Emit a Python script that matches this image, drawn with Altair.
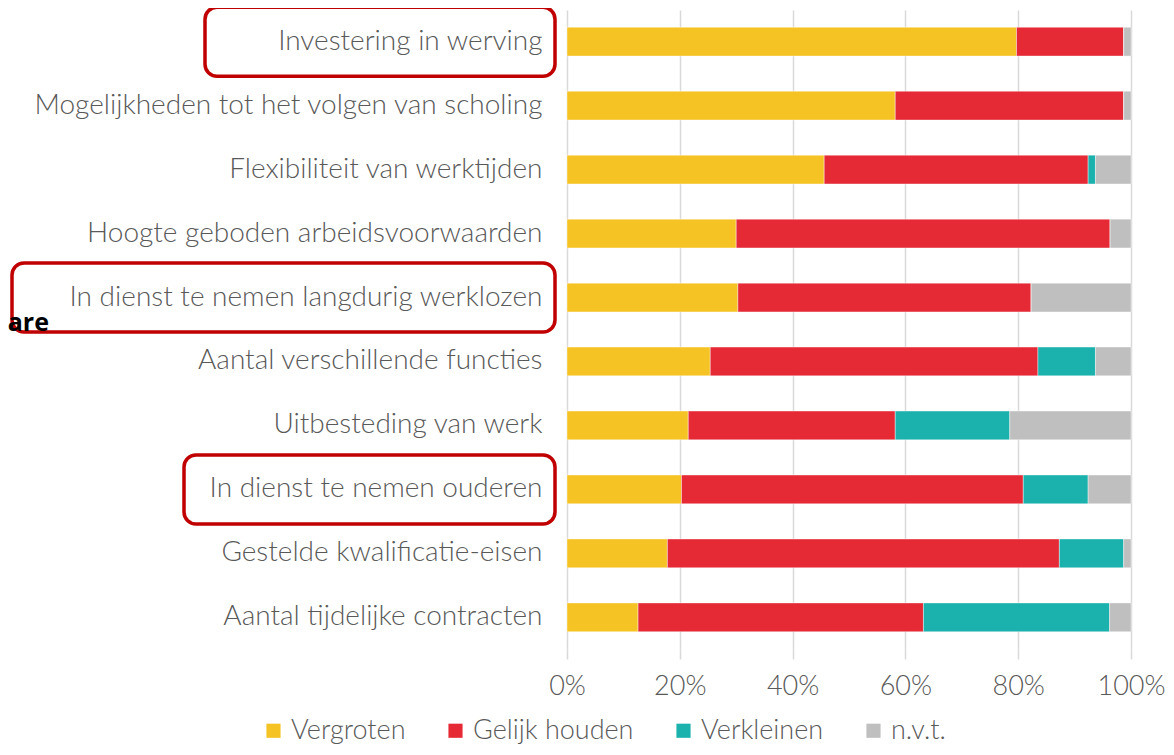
import altair as alt
import pandas as pd

categories = [
    "Investering in werving",
    "Mogelijkheden tot het volgen van scholing",
    "Flexibiliteit van werktijden",
    "Hoogte geboden arbeidsvoorwaarden",
    "In dienst te nemen langdurig werklozen",
    "Aantal verschillende functies",
    "Uitbesteding van werk",
    "In dienst te nemen ouderen",
    "Gestelde kwalificatie-eisen",
    "Aantal tijdelijke contracten",
]
series = ["Vergroten", "Gelijk houden", "Verkleinen", "n.v.t."]
colors = ["#F5C324", "#E52A36", "#1BB1AD", "#BFBFBF"]

vergroten = [79.7, 58.2, 45.6, 30.0, 30.3, 25.4, 21.5, 20.3, 17.8, 12.6]
gelijk_houden = [19.0, 40.5, 46.8, 66.3, 52.0, 58.1, 36.7, 60.6, 69.5, 50.6]
verkleinen = [0.0, 0.0, 1.3, 0.0, 0.0, 10.2, 20.3, 11.5, 11.4, 33.0]
nvt = [1.3, 1.3, 6.3, 3.7, 17.7, 6.3, 21.5, 7.6, 1.3, 3.8]

highlighted = [
    "Investering in werving",
    "In dienst te nemen langdurig werklozen",
    "In dienst te nemen ouderen",
]
box_left = [-362, -555, -383]
stray_text = "are"

rows = []
for i, c in enumerate(categories):
    for j, (s, vals) in enumerate(zip(series, [vergroten, gelijk_houden, verkleinen, nvt])):
        rows.append({"Categorie": c, "Reeks": s, "Waarde": vals[i], "Volgorde": j})
df = pd.DataFrame(rows)

stray = pd.DataFrame({"Categorie": [categories[4]], "t": [stray_text]})

FONT = "Lato"
GRAY = "#595959"

ysc = alt.Scale(domain=categories, paddingInner=0.55, paddingOuter=0.27)

bars = alt.Chart(df).mark_bar(stroke="white", strokeWidth=0.4).encode(
    x=alt.X("Waarde:Q", stack="normalize",
            scale=alt.Scale(domain=[0, 1]),
            axis=alt.Axis(format="%", values=[0, 0.2, 0.4, 0.6, 0.8, 1.0],
                          title=None, grid=True, gridColor="#D9D9D9", gridWidth=1.5,
                          domain=False, ticks=True, tickColor="#D9D9D9", tickSize=10,
                          tickWidth=1.5, labelFont=FONT, labelFontSize=27,
                          labelFontWeight=300, labelFlush=False, labelOverlap=False,
                          labelColor=GRAY, labelPadding=14)),
    y=alt.Y("Categorie:N", scale=ysc, sort=categories,
            axis=alt.Axis(title=None, domain=False, ticks=False, labelFont=FONT,
                          labelFontSize=28, labelFontWeight=300,
                          labelColor=GRAY, labelPadding=25,
                          labelLimit=600)),
    color=alt.Color("Reeks:N", sort=series,
                    scale=alt.Scale(domain=series, range=colors),
                    legend=alt.Legend(title=None, orient="none", direction="horizontal",
                                      legendX=-307, legendY=707,
                                      symbolType="square", symbolSize=200,
                                      symbolStrokeWidth=0, labelFont=FONT,
                                      labelFontSize=27, labelFontWeight=300,
                                      labelColor=GRAY, labelOffset=4,
                                      columnPadding=36, labelLimit=300)),
    order=alt.Order("Volgorde:Q"),
)

box_charts = []
for c, x0 in zip(highlighted, box_left):
    box_charts.append(
        alt.Chart(pd.DataFrame({"Categorie": [c]})).mark_rect(
            fill=None, stroke="#C00000", strokeWidth=3.5, cornerRadius=12, height=69
        ).encode(
            y=alt.Y("Categorie:N", scale=ysc, sort=categories),
            x=alt.value(x0),
            x2=alt.value(-12),
        )
    )

stray_layer = alt.Chart(stray).mark_text(
    align="right", baseline="middle", font="Open Sans", fontSize=25,
    fontWeight="bold", color="black", dy=25
).encode(
    y=alt.Y("Categorie:N", scale=ysc, sort=categories),
    x=alt.value(-518),
    text="t:N",
)

chart = alt.layer(bars, *box_charts, stray_layer).properties(
    width=564, height=639,
    autosize=alt.AutoSizeParams(type="none"),
    padding={"left": 559, "top": 2, "right": 35, "bottom": 98},
).configure_view(stroke=None)

chart.save("out.html", embed_options={"renderer": "svg", "actions": False})
